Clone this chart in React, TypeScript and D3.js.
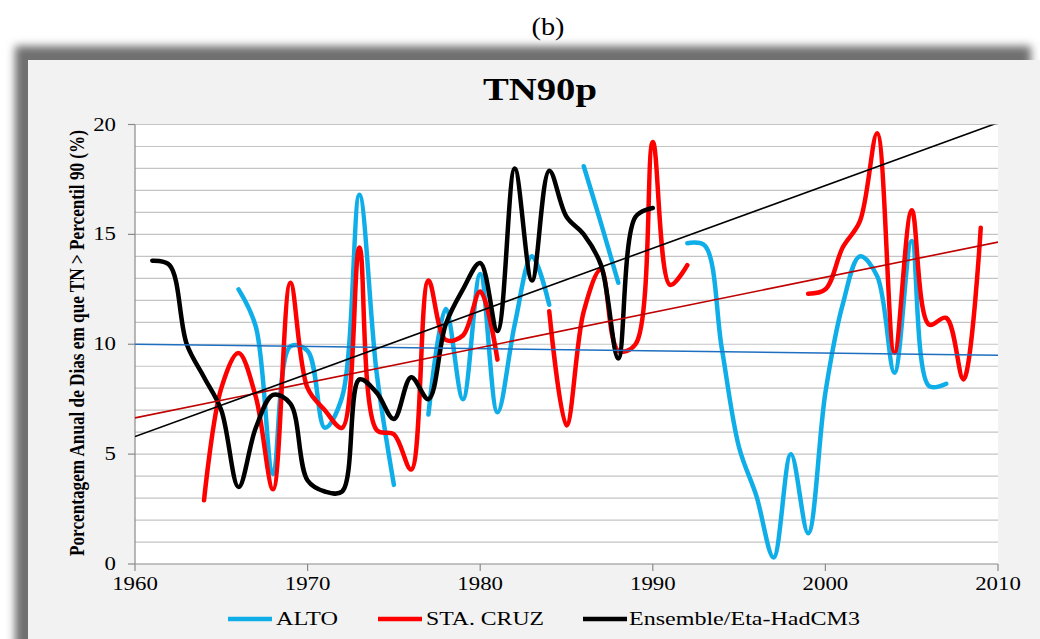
import * as d3 from "d3";

type Pt = [number, number | null];

// ALTO station (light blue)
const ALTO: Pt[] = [
  [1966, 12.5], [1967, 10.8], [1968, 4.1], [1969, 9.9], [1970, 9.7], [1971, 6.2],
  [1972, 7.6], [1973, 16.8], [1974, 8.7], [1975, 3.6], [1976, null],
  [1977, 6.8], [1978, 11.6], [1979, 7.5], [1980, 13.2], [1981, 6.9], [1982, 10.9],
  [1983, 14.0], [1984, 11.8], [1985, null],
  [1986, 18.1], [1987, 15.5], [1988, 12.8], [1989, null],
  [1992, 14.6], [1993, 14.5], [1994, 9.8], [1995, 5.3], [1996, 3.1], [1997, 0.3],
  [1998, 5.0], [1999, 1.4], [2000, 7.8], [2001, 11.8], [2002, 14.0], [2003, 13.1],
  [2004, 8.7], [2005, 14.7], [2006, 8.1], [2007, 8.2],
];

// STA. CRUZ station (red)
const STA_CRUZ: Pt[] = [
  [1964, 2.9], [1965, 8.0], [1966, 9.6], [1967, 7.6], [1968, 3.4], [1969, 12.8],
  [1970, 8.0], [1971, 7.0], [1972, 6.2], [1973, 14.4], [1974, 6.1], [1975, 5.9],
  [1976, 4.3], [1977, 12.9], [1978, 10.2], [1979, 10.4], [1980, 12.4], [1981, 9.3],
  [1982, null],
  [1984, 11.5], [1985, 6.3], [1986, 11.5], [1987, 13.4], [1988, 9.7], [1989, 10.0],
  [1990, 19.2], [1991, 12.7], [1992, 13.6], [1993, null],
  [1999, 12.3], [2000, 12.5], [2001, 14.4], [2002, 15.6], [2003, 19.6], [2004, 9.6],
  [2005, 16.1], [2006, 10.9], [2007, 11.2], [2008, 8.4], [2009, 15.3],
];

// Ensemble/Eta-HadCM3 (black)
const ENSEMBLE: Pt[] = [
  [1961, 13.8], [1962, 13.6], [1963, 10.0], [1964, 8.5], [1965, 7.0], [1966, 3.5],
  [1967, 6.2], [1968, 7.7], [1969, 7.3], [1970, 3.8], [1971, 3.3], [1972, 3.3],
  [1973, 8.4], [1974, 7.8], [1975, 6.6], [1976, 8.5], [1977, 7.5], [1978, 10.9],
  [1979, 12.5], [1980, 13.7], [1981, 10.6], [1982, 18.0], [1983, 12.9], [1984, 17.9],
  [1985, 15.8], [1986, 15.0], [1987, 13.6], [1988, 9.35], [1989, 15.8], [1990, 16.2],
];

// linear trend lines (endpoints)
const TREND_ALTO: Pt[] = [[1960, 10.0], [2010, 9.5]];
const TREND_STA: Pt[] = [[1960, 6.65], [2010, 14.65]];
const TREND_ENS: Pt[] = [[1960, 5.8], [2010, 20.08]];

const X_TICKS = [1960, 1970, 1980, 1990, 2000, 2010];
const Y_TICKS = [0, 5, 10, 15, 20];

const SERIES = [
  { label: "ALTO", data: ALTO, trend: TREND_ALTO, color: "#10aee8", trendColor: "#1f6fc0" },
  { label: "STA. CRUZ", data: STA_CRUZ, trend: TREND_STA, color: "#ff0000", trendColor: "#c00000" },
  { label: "Ensemble/Eta-HadCM3", data: ENSEMBLE, trend: TREND_ENS, color: "#000000", trendColor: "#000000" },
];

const FONT = "'Liberation Serif', 'Times New Roman', serif";
const SX = 1.27; // source picture is stretched horizontally

function SText(props: {
  x: number; y: number; size: number; anchor?: string; bold?: boolean;
  len?: number; children: string; fill?: string;
}) {
  const { x, y, size, anchor = "start", bold, len, children, fill = "#000" } = props;
  return (
    <g transform={`translate(${x},${y}) scale(${SX},1)`}>
      <text
        x={0} y={0} fontFamily={FONT} fontSize={size} fontWeight={bold ? 700 : 400}
        textAnchor={anchor} fill={fill}
        {...(len ? { textLength: len / SX, lengthAdjust: "spacingAndGlyphs" } : {})}
      >
        {children}
      </text>
    </g>
  );
}

export default function App() {
  const W = 1040, H = 639;
  const x = d3.scaleLinear().domain([1960, 2010]).range([135, 998]);
  const y = d3.scaleLinear().domain([0, 20]).range([564, 124.5]);
  const [x0, x1] = x.range();
  const [yb, yt] = y.range();

  const smooth = d3.line<Pt>()
    .defined((d) => d[1] !== null)
    .x((d) => x(d[0]))
    .y((d) => y(d[1] as number))
    .curve(d3.curveCatmullRom.alpha(0.5));

  const straight = d3.line<Pt>()
    .x((d) => x(d[0]))
    .y((d) => y(d[1] as number));

  const legendPos = [
    { lx: 228, tx: 276, tw: 62 },
    { lx: 378, tx: 426, tw: 118 },
    { lx: 583, tx: 629, tw: 231 },
  ];

  return (
    <svg width={W} height={H} style={{ position: "absolute", left: 0, top: 0, background: "#fff" }}>
      <defs>
        <filter id="shadow" x="-5%" y="-5%" width="110%" height="110%">
          <feGaussianBlur stdDeviation="4" />
        </filter>
        <clipPath id="plot">
          <rect x={x0} y={yt} width={x1 - x0} height={yb - yt} />
        </clipPath>
      </defs>

      <SText x={548} y={35} size={25} anchor="middle" len={33}>(b)</SText>

      {/* chart frame with shadow */}
      <rect x={15} y={46} width={1016} height={640} fill="#6f6f6f" filter="url(#shadow)" />
      <rect x={28} y={60} width={1030} height={600} fill="#f2f2f2" />

      {/* plot area */}
      <rect x={x0} y={yt} width={x1 - x0} height={yb - yt} fill="#fff" />
      {y.ticks(20).filter((t) => t > 0).map((t) => (
        <line key={t} x1={x0} x2={x1} y1={y(t)} y2={y(t)} stroke="#c4c4c4" strokeWidth={1.2} />
      ))}

      {/* axes */}
      <line x1={x0} x2={x0} y1={yt} y2={yb} stroke="#8a8a8a" strokeWidth={1.2} />
      <line x1={x0} x2={x1} y1={yb} y2={yb} stroke="#8a8a8a" strokeWidth={1.2} />
      {Y_TICKS.map((t) => (
        <g key={t}>
          <line x1={x0 - 7} x2={x0} y1={y(t)} y2={y(t)} stroke="#8a8a8a" strokeWidth={1.2} />
          <SText x={116} y={y(t) + 6} size={18} anchor="end">{String(t)}</SText>
        </g>
      ))}
      {X_TICKS.map((t) => (
        <g key={t}>
          <line x1={x(t)} x2={x(t)} y1={yb} y2={yb + 7} stroke="#8a8a8a" strokeWidth={1.2} />
          <SText x={x(t)} y={590} size={18} anchor="middle">{String(t)}</SText>
        </g>
      ))}

      {/* series */}
      <g clipPath="url(#plot)">
        {SERIES.map((s) => (
          <path key={s.label} d={smooth(s.data) || ""} fill="none" stroke={s.color}
            strokeWidth={4.5} strokeLinecap="round" strokeLinejoin="round" />
        ))}
        {SERIES.map((s) => (
          <path key={s.label + "-trend"} d={straight(s.trend) || ""} fill="none"
            stroke={s.trendColor} strokeWidth={1.6} />
        ))}
      </g>

      {/* title */}
      <SText x={540} y={100} size={31} bold anchor="middle" len={114}>TN90p</SText>

      {/* y axis title */}
      <g transform={`translate(84,343) scale(${SX},1) rotate(-90)`}>
        <text x={0} y={0} fontFamily={FONT} fontSize={17} fontWeight={700} textAnchor="middle"
          textLength={426} lengthAdjust="spacingAndGlyphs">
          {"Porcentagem Anual de Dias em que TN > Percentil 90 (%)"}
        </text>
      </g>

      {/* legend */}
      {SERIES.map((s, i) => (
        <g key={s.label + "-leg"}>
          <line x1={legendPos[i].lx} x2={legendPos[i].lx + 44} y1={619} y2={619}
            stroke={s.color} strokeWidth={4.5} />
          <SText x={legendPos[i].tx} y={625} size={18} len={legendPos[i].tw}>{s.label}</SText>
        </g>
      ))}
    </svg>
  );
}
